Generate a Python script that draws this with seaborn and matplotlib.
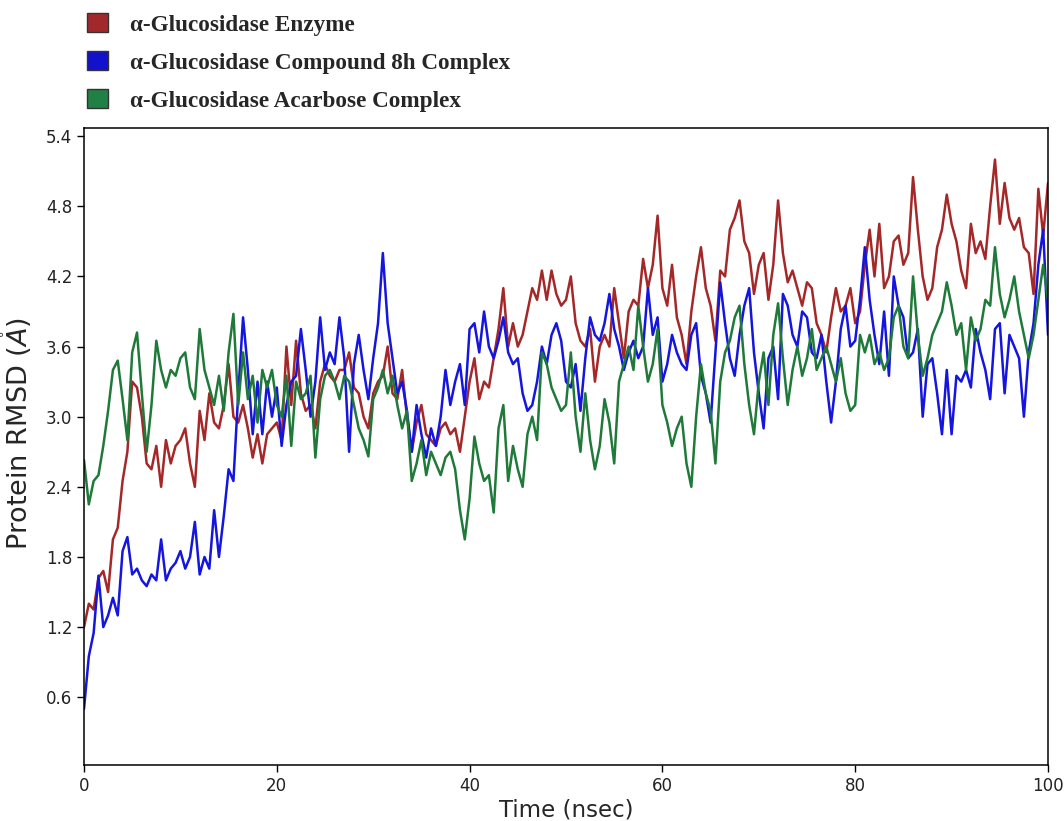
import numpy as np
import pandas as pd
import matplotlib
matplotlib.use("Agg")
import matplotlib.pyplot as plt
from matplotlib.patches import Patch
import seaborn as sns

# time axis (ns), sampled every 0.5 ns
time_ns = [i * 0.5 for i in range(201)]

enzyme = [
    1.20, 1.40, 1.35, 1.62, 1.68, 1.50, 1.95, 2.05, 2.45, 2.70,
    3.30, 3.25, 3.00, 2.60, 2.55, 2.75, 2.40, 2.80, 2.60, 2.75,
    2.80, 2.90, 2.60, 2.40, 3.05, 2.80, 3.20, 2.95, 2.90, 3.10,
    3.45, 3.00, 2.95, 3.10, 2.90, 2.65, 2.85, 2.60, 2.85, 2.90,
    2.95, 2.80, 3.60, 3.10, 3.65, 3.20, 3.05, 3.10, 2.90, 3.30,
    3.45, 3.35, 3.30, 3.40, 3.40, 3.55, 3.25, 3.20, 3.00, 2.90,
    3.20, 3.30, 3.35, 3.60, 3.20, 3.15, 3.40, 3.00, 2.70, 2.95,
    3.10, 2.85, 2.80, 2.75, 2.90, 2.95, 2.85, 2.90, 2.70, 3.00,
    3.30, 3.50, 3.15, 3.30, 3.25, 3.50, 3.75, 4.10, 3.60, 3.80,
    3.60, 3.70, 3.90, 4.10, 4.00, 4.25, 4.00, 4.25, 4.05, 3.95,
    4.00, 4.20, 3.80, 3.65, 3.60, 3.75, 3.30, 3.60, 3.70, 3.60,
    4.10, 3.80, 3.50, 3.90, 4.00, 3.95, 4.35, 4.10, 4.30, 4.72,
    4.10, 3.95, 4.30, 3.85, 3.70, 3.45, 3.90, 4.20, 4.45, 4.10,
    3.95, 3.65, 4.25, 4.20, 4.60, 4.70, 4.85, 4.50, 4.40, 4.05,
    4.30, 4.40, 4.00, 4.30, 4.85, 4.40, 4.15, 4.25, 4.10, 3.95,
    4.15, 4.10, 3.80, 3.70, 3.55, 3.85, 4.10, 3.90, 3.95, 4.10,
    3.80, 3.90, 4.30, 4.60, 4.20, 4.65, 4.10, 4.20, 4.50, 4.55,
    4.30, 4.40, 5.05, 4.60, 4.20, 4.00, 4.10, 4.45, 4.60, 4.90,
    4.65, 4.50, 4.25, 4.10, 4.65, 4.40, 4.50, 4.35, 4.80, 5.20,
    4.65, 5.00, 4.70, 4.60, 4.70, 4.45, 4.40, 4.05, 4.95, 4.55,
    5.00,
]

compound_8h = [
    0.50, 0.95, 1.15, 1.64, 1.20, 1.30, 1.45, 1.30, 1.85, 1.97,
    1.65, 1.70, 1.60, 1.55, 1.65, 1.60, 1.95, 1.60, 1.70, 1.75,
    1.85, 1.70, 1.80, 2.10, 1.65, 1.80, 1.70, 2.20, 1.80, 2.15,
    2.55, 2.45, 3.20, 3.85, 3.40, 2.85, 3.30, 2.85, 3.30, 3.00,
    3.25, 2.75, 3.10, 3.30, 3.35, 3.75, 3.40, 3.00, 3.30, 3.85,
    3.40, 3.55, 3.45, 3.85, 3.50, 2.70, 3.45, 3.70, 3.40, 3.15,
    3.50, 3.80, 4.40, 3.80, 3.50, 3.20, 3.30, 3.05, 2.70, 3.10,
    2.85, 2.65, 2.90, 2.75, 3.00, 3.40, 3.10, 3.30, 3.45, 3.10,
    3.75, 3.80, 3.55, 3.90, 3.60, 3.50, 3.65, 3.85, 3.55, 3.45,
    3.50, 3.20, 3.05, 3.10, 3.30, 3.60, 3.45, 3.70, 3.80, 3.65,
    3.30, 3.25, 3.45, 3.05, 3.50, 3.85, 3.70, 3.65, 3.80, 4.05,
    3.75, 3.60, 3.40, 3.55, 3.65, 3.50, 3.60, 4.10, 3.70, 3.85,
    3.30, 3.45, 3.70, 3.55, 3.45, 3.40, 3.70, 3.80, 3.35, 3.20,
    2.95, 3.55, 4.15, 3.80, 3.50, 3.35, 3.70, 3.95, 4.10, 3.55,
    3.20, 2.90, 3.50, 3.60, 3.15, 4.05, 3.95, 3.70, 3.60, 3.90,
    3.85, 3.55, 3.50, 3.70, 3.30, 2.95, 3.30, 3.75, 3.95, 3.60,
    3.65, 4.00, 4.45, 4.00, 3.70, 3.45, 3.90, 3.35, 4.20, 3.95,
    3.85, 3.50, 3.55, 3.75, 3.00, 3.45, 3.50, 3.20, 2.85, 3.40,
    2.85, 3.35, 3.30, 3.40, 3.25, 3.75, 3.55, 3.40, 3.15, 3.75,
    3.80, 3.20, 3.70, 3.60, 3.50, 3.00, 3.55, 3.80, 4.30, 4.60,
    3.70,
]

acarbose = [
    2.63, 2.25, 2.45, 2.50, 2.75, 3.05, 3.40, 3.48, 3.15, 2.80,
    3.55, 3.72, 3.20, 2.70, 3.10, 3.65, 3.40, 3.25, 3.40, 3.35,
    3.50, 3.55, 3.25, 3.15, 3.75, 3.40, 3.25, 3.10, 3.35, 3.05,
    3.55, 3.88, 3.10, 3.55, 3.15, 3.35, 2.95, 3.40, 3.25, 3.40,
    3.10, 3.00, 3.35, 2.75, 3.30, 3.15, 3.20, 3.35, 2.65, 3.15,
    3.35, 3.40, 3.30, 3.15, 3.35, 3.30, 3.10, 2.90, 2.80, 2.66,
    3.15, 3.25, 3.40, 3.20, 3.35, 3.10, 2.90, 3.05, 2.45, 2.60,
    2.80, 2.50, 2.70, 2.60, 2.50, 2.65, 2.70, 2.55, 2.20, 1.95,
    2.30, 2.83, 2.60, 2.45, 2.50, 2.18, 2.90, 3.10, 2.45, 2.75,
    2.55, 2.40, 2.85, 3.00, 2.80, 3.55, 3.45, 3.25, 3.15, 3.05,
    3.10, 3.55, 3.00, 2.70, 3.20, 2.80, 2.55, 2.75, 3.15, 2.95,
    2.60, 3.30, 3.45, 3.60, 3.40, 3.95, 3.60, 3.30, 3.45, 3.75,
    3.10, 2.95, 2.75, 2.90, 3.00, 2.60, 2.40, 3.00, 3.45, 3.20,
    3.05, 2.60, 3.30, 3.55, 3.65, 3.85, 3.95, 3.45, 3.10, 2.85,
    3.30, 3.55, 3.10, 3.70, 3.97, 3.50, 3.10, 3.40, 3.60, 3.35,
    3.50, 3.75, 3.40, 3.50, 3.60, 3.45, 3.30, 3.50, 3.20, 3.05,
    3.10, 3.70, 3.55, 3.70, 3.45, 3.55, 3.40, 3.50, 3.85, 3.95,
    3.60, 3.50, 4.20, 3.70, 3.35, 3.50, 3.70, 3.80, 3.90, 4.15,
    3.95, 3.70, 3.80, 3.40, 3.85, 3.65, 3.75, 4.00, 3.95, 4.45,
    4.05, 3.85, 4.00, 4.20, 3.90, 3.70, 3.50, 3.70, 4.00, 4.30,
    4.00,
]

series_names = [
    "α-Glucosidase Enzyme",
    "α-Glucosidase Compound 8h Complex",
    "α-Glucosidase Acarbose Complex",
]
line_colors = ["#A52828", "#1515E0", "#1F7A3A"]
patch_colors = ["#A3282C", "#1212CC", "#218045"]

y_ticks = [0.6, 1.2, 1.8, 2.4, 3.0, 3.6, 4.2, 4.8, 5.4]
x_ticks = [0, 20, 40, 60, 80, 100]

df = pd.concat(
    [
        pd.DataFrame({"time": time_ns, "rmsd": vals, "series": name})
        for name, vals in zip(series_names, [enzyme, compound_8h, acarbose])
    ],
    ignore_index=True,
)

sns.set_theme(style="ticks")
plt.rcParams["font.family"] = ["DejaVu Sans"]

fig = plt.figure(figsize=(10.64, 8.21), dpi=100)
ax = fig.add_axes([84 / 1064, 1 - 765 / 821, (1048 - 84) / 1064, (765 - 128) / 821])

sns.lineplot(
    data=df, x="time", y="rmsd", hue="series", hue_order=series_names,
    palette=dict(zip(series_names, line_colors)), linewidth=1.8,
    ax=ax, legend=False, estimator=None, sort=True,
)

ax.set_xlim(0, 100)
ax.set_ylim(0.02, 5.47)
ax.set_xticks(x_ticks)
ax.set_yticks(y_ticks)
ax.set_yticklabels([f"{v:.1f}" for v in y_ticks])
ax.tick_params(axis="both", labelsize=12, length=5, width=1, color="black", labelcolor="#222222")
for s in ax.spines.values():
    s.set_color("black")
    s.set_linewidth(1.1)

ax.set_xlabel("Time (nsec)", fontsize=16.5, labelpad=3)
ax.set_ylabel(r"Protein RMSD ($\mathring{A}$)", fontsize=19.5, labelpad=1)
ax.yaxis.set_label_coords(-0.052, 0.52)

handles = [Patch(facecolor=c, edgecolor="#333333", linewidth=1.0) for c in patch_colors]
fig.legend(
    handles, series_names, loc="upper left",
    bbox_to_anchor=(87 / 1064, 1 - 13 / 821),
    frameon=False, borderpad=0, borderaxespad=0,
    handlelength=0.9, handleheight=0.9, handletextpad=0.95,
    labelspacing=0.66,
    prop={"family": ["Liberation Serif", "DejaVu Serif"], "weight": "bold", "size": 16.7},
)

fig.savefig("out.png", dpi=100)
